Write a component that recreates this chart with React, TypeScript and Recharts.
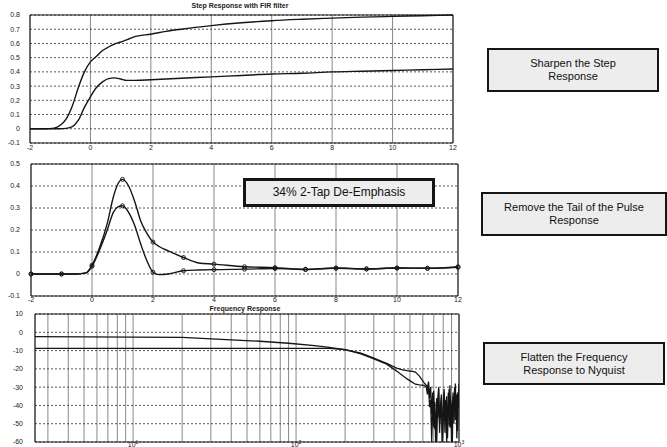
import { CartesianGrid, Line, LineChart, ReferenceArea, XAxis, YAxis } from "recharts";

// step response (top)
const stepT = [-2, -1.5, -1.2, -1, -0.8, -0.6, -0.4, -0.2, 0, 0.2, 0.4, 0.6, 0.8, 1, 1.2, 1.5, 2, 2.5, 3, 4, 5, 6, 7, 8, 9, 10, 11, 12];
const stepSharp = [0, 0, 0.005, 0.025, 0.07, 0.16, 0.29, 0.4, 0.47, 0.51, 0.55, 0.575, 0.595, 0.61, 0.625, 0.65, 0.665, 0.685, 0.7, 0.725, 0.745, 0.76, 0.77, 0.778, 0.785, 0.79, 0.795, 0.8];
const stepPlain = [0, 0, 0, 0, 0.003, 0.015, 0.06, 0.15, 0.225, 0.29, 0.33, 0.353, 0.358, 0.35, 0.34, 0.34, 0.345, 0.35, 0.355, 0.365, 0.375, 0.385, 0.39, 0.4, 0.405, 0.41, 0.415, 0.42];

// pulse response (middle)
const pulseT = [-2, -1, -0.5, -0.2, 0, 0.25, 0.5, 0.7, 0.85, 1, 1.2, 1.4, 1.6, 1.8, 2, 2.2, 2.5, 3, 3.5, 4, 5, 6, 7, 8, 9, 10, 11, 12];
const pulseRaw = [0, 0, 0, 0.005, 0.04, 0.12, 0.23, 0.35, 0.41, 0.43, 0.4, 0.33, 0.24, 0.185, 0.145, 0.125, 0.105, 0.075, 0.05, 0.045, 0.033, 0.029, 0.02, 0.027, 0.023, 0.027, 0.026, 0.033];
const pulseEq = [0, 0, 0, 0.005, 0.035, 0.11, 0.2, 0.28, 0.305, 0.31, 0.28, 0.22, 0.135, 0.06, 0.008, -0.003, 0, 0.015, 0.018, 0.02, 0.022, 0.025, 0.022, 0.026, 0.023, 0.027, 0.026, 0.03];

// frequency response (bottom)
const freqHz = [2.5, 5, 10, 20, 40, 60, 90, 130, 160, 200, 250, 290, 330, 360, 390, 420, 450, 480, 510, 540, 570, 610,
  630, 640, 650, 660, 670, 680, 690, 700, 710, 720, 730, 740, 750, 760, 770, 780, 790, 800, 810, 820, 830, 840, 850,
  860, 870, 880, 890, 900, 910, 920, 930, 940, 950, 960, 970, 980, 990, 1000];
const magRaw = [-2.4, -2.5, -2.6, -2.8, -4.1, -4.9, -6, -7.3, -8.3, -9.5, -11.4, -13.6, -15.6, -17, -18.5, -19.8, -20.6, -21, -21.3, -21.8, -23.8, -27.5,
  -29, -31, -27, -36, -30, -45, -33, -52, -38, -60, -36, -47, -30, -55, -40, -34, -60, -42, -31, -49, -37, -60, -45,
  -33, -51, -29, -46, -39, -60, -35, -43, -30, -48, -36, -58, -33, -41, -28];
const magEq = [-8.8, -8.8, -8.8, -8.8, -8.8, -8.8, -8.8, -8.8, -8.8, -9.5, -11.8, -14, -16, -17.4, -19.6, -21.6, -23.6, -25.5, -27, -28.4, -28.8, -29,
  -30, -34, -29, -41, -37, -60, -41, -32, -53, -44, -60, -38, -31, -50, -45, -36, -60, -47, -33, -55, -40, -35, -58,
  -42, -31, -52, -37, -60, -44, -33, -50, -39, -28, -46, -34, -54, -38, -30];

const timeTicks = [-2, 0, 2, 4, 6, 8, 10, 12];
const stepTicks = [-0.1, 0, 0.1, 0.2, 0.3, 0.4, 0.5, 0.6, 0.7, 0.8];
const pulseTicks = [-0.1, 0, 0.1, 0.2, 0.3, 0.4, 0.5];
const dbTicks = [-60, -50, -40, -30, -20, -10, 0, 10];
const freqTicks = [3, 4, 5, 6, 7, 8, 9, 10, 20, 30, 40, 50, 60, 70, 80, 90, 100, 200, 300, 400, 500, 600, 700, 800, 900, 1000];

const FONT = "'Liberation Sans', Arial, sans-serif";
const tickStyle = { fontSize: 7, fill: "#222", fontFamily: FONT };
const INK = "#151515";

const ringDot = (key: string) => (props: any) => {
  const { cx, cy, payload, index } = props;
  if (!Number.isInteger(payload.t)) return <g key={`${key}-${index}`} />;
  return <circle key={`${key}-${index}`} cx={cx} cy={cy} r={2} fill="none" stroke={INK} strokeWidth={0.9} />;
};

const DecadeTick = (props: any) => {
  const { x, y, payload } = props;
  const lg = Math.log10(payload.value);
  if (Math.abs(lg - Math.round(lg)) > 1e-6) return <g />;
  return (
    <text x={x} y={y + 3} textAnchor="middle" fontSize={7} fill="#222" fontFamily={FONT}>
      10<tspan dy={-3} fontSize={5}>{Math.round(lg)}</tspan>
    </text>
  );
};

function Grid() {
  return [
    <CartesianGrid key="v" horizontal={false} stroke="#6a6a6a" strokeWidth={0.8} />,
    <CartesianGrid key="h" vertical={false} stroke="#444" strokeWidth={0.9} strokeDasharray="2 2" />,
  ];
}

function StepChart() {
  const data = stepT.map((t, i) => ({ t, a: stepSharp[i], b: stepPlain[i] }));
  return (
    <LineChart width={460} height={158} data={data} margin={{ top: 15, right: 7, bottom: 0, left: 0 }}>
      {Grid()}
      <XAxis dataKey="t" type="number" domain={[-2, 12]} ticks={timeTicks} interval={0} height={15}
        axisLine={false} tickLine={false} tickSize={2} tick={tickStyle} tickMargin={0} />
      <YAxis type="number" domain={[-0.1, 0.8]} ticks={stepTicks} interval={0} width={30}
        axisLine={false} tickLine={false} tick={tickStyle} tickMargin={4} />
      <ReferenceArea x1={-2} x2={12} y1={-0.1} y2={0.8} fill="none" stroke={INK} strokeWidth={1} />
      <Line dataKey="a" type="monotone" stroke={INK} strokeWidth={1.4} dot={false} isAnimationActive={false} />
      <Line dataKey="b" type="monotone" stroke={INK} strokeWidth={1.4} dot={false} isAnimationActive={false} />
    </LineChart>
  );
}

function PulseChart() {
  const data = pulseT.map((t, i) => ({ t, a: pulseRaw[i], b: pulseEq[i] }));
  return (
    <LineChart width={466} height={160} data={data} margin={{ top: 14, right: 8, bottom: 0, left: 0 }}>
      {Grid()}
      <XAxis dataKey="t" type="number" domain={[-2, 12]} ticks={timeTicks} interval={0} height={14}
        axisLine={false} tickLine={false} tickSize={1} tick={tickStyle} tickMargin={0} />
      <YAxis type="number" domain={[-0.1, 0.5]} ticks={pulseTicks} interval={0} width={31}
        axisLine={false} tickLine={false} tick={tickStyle} tickMargin={5} />
      <ReferenceArea x1={-2} x2={12} y1={-0.1} y2={0.5} fill="none" stroke={INK} strokeWidth={1} />
      <Line dataKey="a" type="monotone" stroke={INK} strokeWidth={1.4} dot={ringDot("a")} isAnimationActive={false} />
      <Line dataKey="b" type="monotone" stroke={INK} strokeWidth={1.4} dot={ringDot("b")} isAnimationActive={false} />
    </LineChart>
  );
}

function FreqChart() {
  const data = freqHz.map((f, i) => ({ f, a: magRaw[i], b: magEq[i] }));
  return (
    <LineChart width={467} height={147} data={data} margin={{ top: 14, right: 8, bottom: 0, left: 0 }}>
      {Grid()}
      <XAxis dataKey="f" type="number" scale="log" domain={[2.5, 1000]} allowDataOverflow ticks={freqTicks}
        interval={0} height={5} axisLine={false} tickLine={false} tickSize={0} tick={<DecadeTick />} />
      <YAxis type="number" domain={[-60, 10]} allowDataOverflow ticks={dbTicks} interval={0} width={35}
        axisLine={false} tickLine={false} tick={tickStyle} tickMargin={6} />
      <ReferenceArea x1={2.5} x2={1000} y1={-60} y2={10} fill="none" stroke={INK} strokeWidth={1} />
      <Line dataKey="a" type="linear" stroke={INK} strokeWidth={1.3} dot={false} isAnimationActive={false} />
      <Line dataKey="b" type="linear" stroke={INK} strokeWidth={1.3} dot={false} isAnimationActive={false} />
    </LineChart>
  );
}

const boxBase: React.CSSProperties = {
  position: "absolute",
  boxSizing: "border-box",
  border: `2px solid ${INK}`,
  background: "#ededed",
  fontFamily: FONT,
  fontSize: 11,
  lineHeight: "13px",
  color: "#111",
  textAlign: "center",
  display: "flex",
  alignItems: "center",
  justifyContent: "center",
};

const titleStyle: React.CSSProperties = {
  position: "absolute",
  fontFamily: FONT,
  fontSize: 7,
  fontWeight: "bold",
  color: "#222",
  textAlign: "center",
  whiteSpace: "nowrap",
  lineHeight: "8px",
};

export default function App() {
  return (
    <div style={{ position: "absolute", left: 0, top: 0, width: 667, height: 447, background: "#fff", overflow: "hidden" }}>
      <style>{"svg.recharts-surface{overflow:visible}"}</style>
      <div style={{ ...titleStyle, left: 140, width: 200, top: 2 }}>Step Response with FIR filter</div>
      <div style={{ position: "absolute", left: 0, top: 0 }}><StepChart /></div>
      <div style={{ position: "absolute", left: 0, top: 150 }}><PulseChart /></div>
      <div style={{ ...titleStyle, left: 145, width: 200, top: 305 }}>Frequency Response</div>
      <div style={{ position: "absolute", left: 0, top: 300 }}><FreqChart /></div>

      <div style={{ ...boxBase, left: 243, top: 178, width: 192, height: 29, border: `3px solid ${INK}`, fontSize: 12 }}>
        34% 2-Tap De-Emphasis
      </div>
      <div style={{ ...boxBase, left: 487, top: 48, width: 172, height: 44 }}>
        Sharpen the Step<br />Response
      </div>
      <div style={{ ...boxBase, left: 481, top: 192, width: 186, height: 44 }}>
        Remove the Tail of the Pulse<br />Response
      </div>
      <div style={{ ...boxBase, left: 483, top: 342, width: 182, height: 43 }}>
        Flatten the Frequency<br />Response to Nyquist
      </div>
    </div>
  );
}
